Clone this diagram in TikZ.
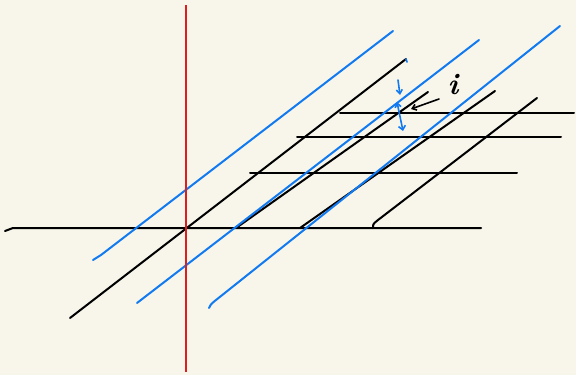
\documentclass[tikz,border=0pt]{standalone}
\usetikzlibrary{arrows.meta}
\definecolor{bgc}{RGB}{248,246,234}
\definecolor{pblue}{RGB}{18,122,240}
\definecolor{pred}{RGB}{222,30,30}
\tikzset{
  blk/.style={draw=black,line width=2pt,line cap=round,line join=round},
  blu/.style={draw=pblue,line width=2pt,line cap=round,line join=round},
  axisline/.style={draw=pred,line width=2pt},
  lbl/.style={inner sep=0pt,font=\fontsize{30}{30}\selectfont\bfseries\itshape}
}
\begin{document}
\begin{tikzpicture}[x=1pt,y=-1pt]
\fill[bgc] (0,0) rectangle (576,375);
\useasboundingbox (0,0) rectangle (576,375);
% horizontal lines
\draw[blk] (5,231) -- (13,228) -- (481,228);
\draw[blk] (250,173) -- (517,173);
\draw[blk] (297,137) -- (561,137);
\draw[blk] (340,113) -- (574,113);
% black diagonals
\draw[blk] (70,318) -- (406,59);
\draw[blk] (236,228) -- (428,92);
\draw[blk] (300,228) -- (495,91);
\draw[blk] (373,228) .. controls (373,224) .. (378,220) -- (537,98);
% blue diagonals
\draw[blu] (93,260) .. controls (97,258) .. (101,255) -- (393,31);
\draw[blu] (137,303) -- (479,40);
\draw[blu] (209,308) .. controls (211,304) .. (216,300) -- (560,26);
% red axis
\draw[axisline] (186,5) -- (186,372);
% label and pointer
\node[lbl] (i) at (453,85) {i};
\coordinate (ptail) at (439,99);
\coordinate (phead) at (411,109);
\draw[blk,line width=1.6pt,-{Straight Barb[length=4pt,width=6pt]}] (ptail) -- (phead);
% blue dimension marks
\coordinate (t1) at (406,59);
\coordinate (t2) at (407,62);
\draw[blu,line width=1.6pt] (t1) -- (t2);
\coordinate (a1) at (398,80);
\coordinate (a2) at (400,95);
\draw[blu,line width=1.6pt,-{Straight Barb[length=4pt,width=6pt]}] (a1) -- (a2);
\coordinate (b1) at (397,102);
\coordinate (b2) at (403,131);
\draw[blu,line width=1.6pt,{Straight Barb[length=4pt,width=6pt]}-{Straight Barb[length=4pt,width=7pt]}] (b1) -- (b2);
\end{tikzpicture}
\end{document}
